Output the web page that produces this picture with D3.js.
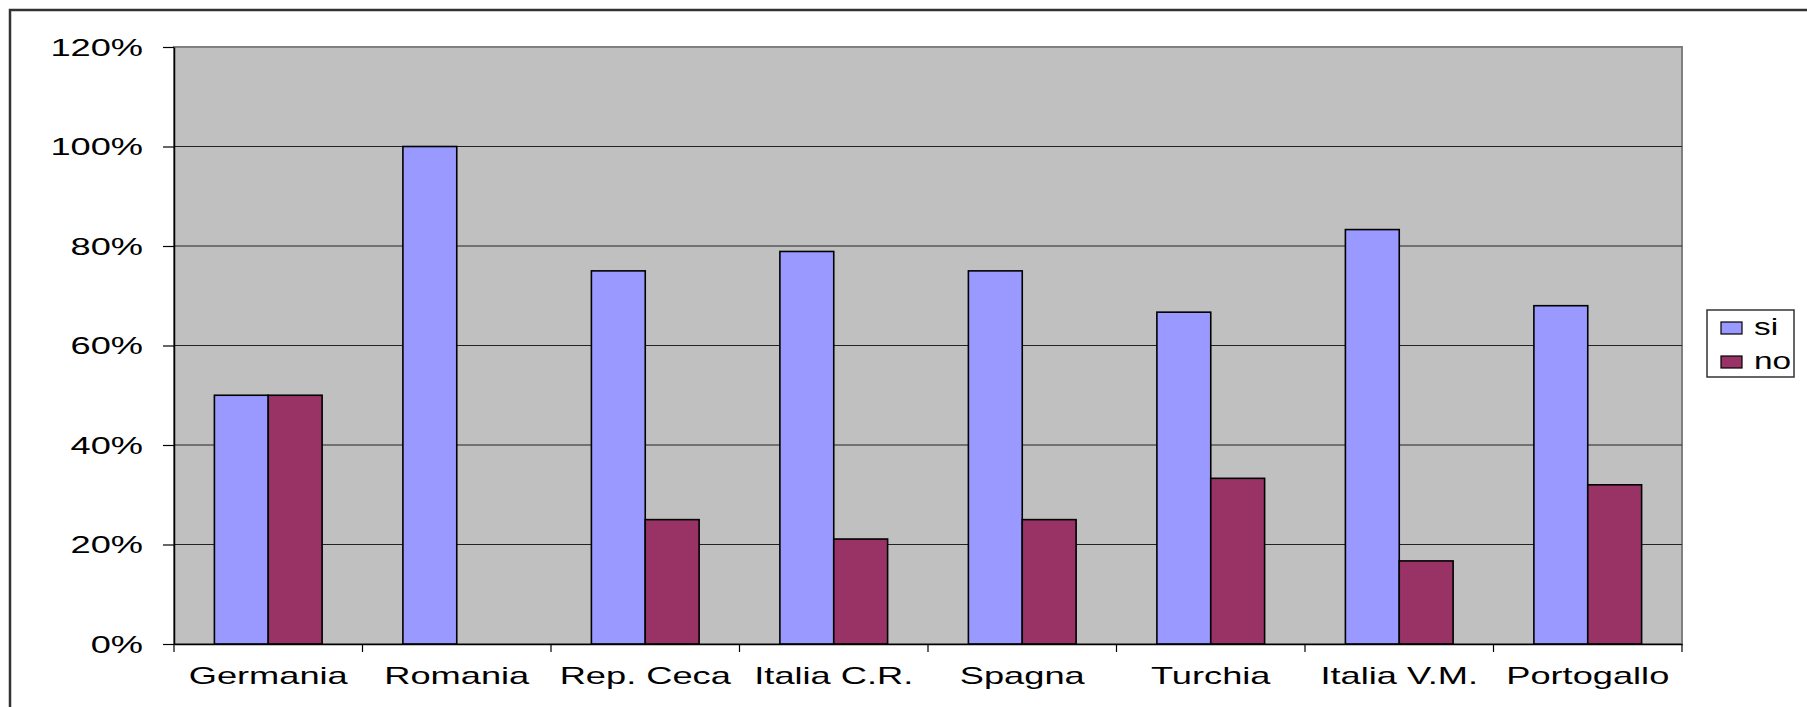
<!DOCTYPE html>
<html>
<head>
<meta charset="utf-8">
<script src="https://cdn.jsdelivr.net/npm/d3@7"></script>
<style>
  html, body { margin: 0; padding: 0; background: #fff; }
  svg { display: block; }
  text { font-family: "Liberation Sans", Arial, sans-serif; fill: #000; }
</style>
</head>
<body>
<svg id="chart" width="1807" height="707"></svg>
<script>
// Share of answers per country
const categories = ["Germania", "Romania", "Rep. Ceca", "Italia C.R.", "Spagna", "Turchia", "Italia V.M.", "Portogallo"];
const seriesNames = ["si", "no"];
const siValues = [0.50, 1.00, 0.75, 0.789, 0.75, 0.667, 0.833, 0.68];
const noValues = [0.50, 0.00, 0.25, 0.211, 0.25, 0.333, 0.167, 0.32];
const yTicks = [0, 0.2, 0.4, 0.6, 0.8, 1.0, 1.2];
const colors = { si: "#9999FF", no: "#993366" };

const rows = categories.map((c, i) => ({ cat: c, si: siValues[i], no: noValues[i] }));

const svg = d3.select("#chart");
const plot = { left: 174, right: 1682, top: 47, bottom: 644 };
const stretch = 1.575; // wide letterforms of the labels
const fontSize = 23;

// outer frame
svg.append("rect")
  .attr("x", 10).attr("y", 10)
  .attr("width", 1860).attr("height", 760)
  .attr("fill", "#fff").attr("stroke", "#333").attr("stroke-width", 2.5);

const x = d3.scaleBand().domain(categories).range([plot.left, plot.right]).paddingInner(0).paddingOuter(0);
const x1 = d3.scaleBand().domain(seriesNames).range([0, x.bandwidth()]).paddingInner(0).paddingOuter(0.75);
const y = d3.scaleLinear().domain([0, 1.2]).range([plot.bottom, plot.top]);

// plot area
svg.append("rect")
  .attr("x", plot.left).attr("y", plot.top)
  .attr("width", plot.right - plot.left).attr("height", plot.bottom - plot.top)
  .attr("fill", "#C0C0C0").attr("stroke", "#808080").attr("stroke-width", 2);

// gridlines
svg.append("g").selectAll("line")
  .data(yTicks.filter(t => t > 0 && t < 1.2))
  .join("line")
  .attr("x1", plot.left).attr("x2", plot.right)
  .attr("y1", d => y(d)).attr("y2", d => y(d))
  .attr("stroke", "#222").attr("stroke-width", 1.2);

// bars
const groups = svg.append("g").selectAll("g")
  .data(rows).join("g")
  .attr("transform", d => `translate(${x(d.cat)},0)`);

groups.selectAll("rect")
  .data(d => seriesNames.map(k => ({ key: k, value: d[k] })).filter(v => v.value > 0))
  .join("rect")
  .attr("x", d => x1(d.key))
  .attr("y", d => y(d.value))
  .attr("width", x1.bandwidth())
  .attr("height", d => y(0) - y(d.value))
  .attr("fill", d => colors[d.key])
  .attr("stroke", "#000").attr("stroke-width", 1.6);

// y axis
const yAxis = svg.append("g")
  .attr("transform", `translate(${plot.left},0)`)
  .call(d3.axisLeft(y).tickValues(yTicks).tickFormat(d3.format(".0%")).tickSize(11).tickSizeOuter(0));
yAxis.select(".domain").attr("stroke", "#000").attr("stroke-width", 1.5);
yAxis.selectAll(".tick line").attr("stroke", "#000").attr("stroke-width", 1.2);
yAxis.selectAll(".tick text")
  .attr("font-size", fontSize)
  .attr("font-family", "Liberation Sans, Arial, sans-serif")
  .attr("x", -31 / stretch)
  .attr("dy", "0.36em")
  .attr("transform", `scale(${stretch},1)`);

// x axis: labels centred in each band, ticks at band edges
const xAxis = svg.append("g")
  .attr("transform", `translate(0,${plot.bottom})`)
  .call(d3.axisBottom(x).tickSize(0).tickSizeOuter(0));
xAxis.select(".domain").attr("stroke", "#000").attr("stroke-width", 1.5);
xAxis.selectAll(".tick text")
  .attr("font-size", fontSize)
  .attr("font-family", "Liberation Sans, Arial, sans-serif")
  .attr("y", 40).attr("dy", 0)
  .attr("transform", `scale(${stretch},1)`)
  .attr("x", 0);

const edges = categories.map(c => x(c)).concat([x.range()[1]]);
xAxis.selectAll(".edge")
  .data(edges).join("line")
  .attr("class", "edge")
  .attr("x1", d => d).attr("x2", d => d)
  .attr("y1", 0).attr("y2", 8)
  .attr("stroke", "#000").attr("stroke-width", 1.2);

// legend
const legend = svg.append("g").attr("transform", "translate(1707,310)");
legend.append("rect")
  .attr("x", 0).attr("y", 0).attr("width", 87).attr("height", 67)
  .attr("fill", "#fff").attr("stroke", "#333").attr("stroke-width", 1.5);
const items = legend.selectAll(".item")
  .data(seriesNames).join("g")
  .attr("class", "item")
  .attr("transform", (d, i) => `translate(14,${12 + i * 34})`);
items.append("rect")
  .attr("width", 21).attr("height", 12)
  .attr("fill", d => colors[d])
  .attr("stroke", "#000").attr("stroke-width", 1.2);
items.append("text")
  .attr("transform", "translate(33,13) scale(1.45,1)")
  .attr("font-size", fontSize)
  .text(d => d);
</script>
</body>
</html>
